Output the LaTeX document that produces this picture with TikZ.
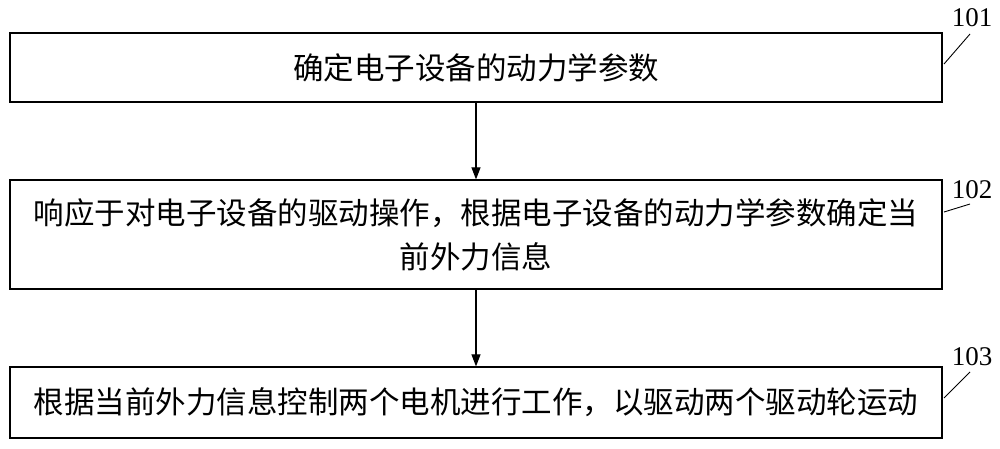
\documentclass[tikz,border=0pt]{standalone}
\usepackage{fontspec}
\setmainfont{Liberation Serif}
\newfontfamily\cjk{Noto Sans CJK SC}
\usetikzlibrary{arrows.meta}
\begin{document}
\begin{tikzpicture}[x=1pt,y=-1pt,
  stepbox/.style={draw,line width=1.2pt,minimum width=932pt,inner sep=0pt,align=center,font=\cjk\fontsize{30.5}{44}\selectfont},
  num/.style={font=\fontsize{27}{28}\selectfont},
  arr/.style={-{Triangle[length=12pt,width=9pt]},line width=1.1pt}]
\useasboundingbox (0,0) rectangle (1000,448);
\node[stepbox,minimum height=69pt] (b1) at (476,67.5) {确定电子设备的动力学参数};
\node[stepbox,minimum height=109pt] (b2) at (476,234.5) {响应于对电子设备的驱动操作，根据电子设备的动力学参数确定当\\前外力信息};
\node[stepbox,minimum height=71pt] (b3) at (476,402.5) {根据当前外力信息控制两个电机进行工作，以驱动两个驱动轮运动};
\draw[arr] (b1) -- (b2);
\draw[arr] (b2) -- (b3);
\node[num] (n1) at (972,18) {101};
\node[num] (n2) at (972,190) {102};
\node[num] (n3) at (972,357) {103};
\coordinate (c1) at (944,64); \coordinate (c2) at (944,212); \coordinate (c3) at (944,398);
\coordinate (e1) at (970,34); \coordinate (e2) at (970,204); \coordinate (e3) at (970,372);
\draw[line width=0.9pt] (c1) -- (e1);
\draw[line width=0.9pt] (c2) -- (e2);
\draw[line width=0.9pt] (c3) -- (e3);
\end{tikzpicture}
\end{document}
